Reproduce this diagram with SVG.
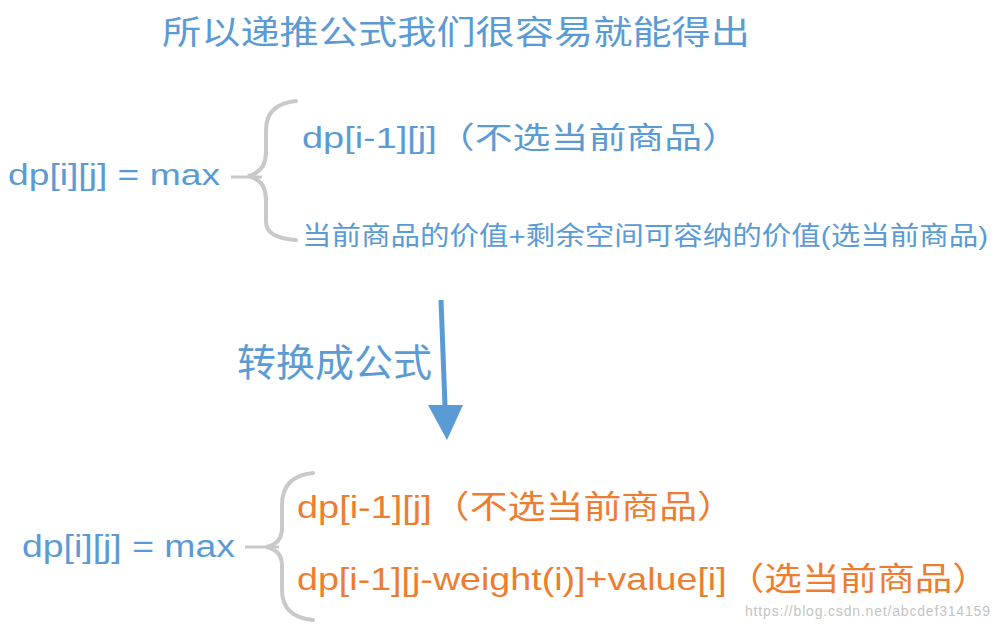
<svg xmlns="http://www.w3.org/2000/svg" width="1000" height="629" viewBox="0 0 1000 629">
<defs>
<style>
.b{fill:#5b9bd5;font-family:"Liberation Sans","Noto Sans CJK SC",sans-serif}
.o{fill:#ed7d31;font-family:"Liberation Sans","Noto Sans CJK SC",sans-serif}
.br{fill:none;stroke:#c9c9c9;stroke-width:4;stroke-linecap:round}
</style>
</defs>
<rect width="1000" height="629" fill="#fff"/>
<g id="title"><text class="b" x="162" y="44" font-size="33" textLength="588" lengthAdjust="spacingAndGlyphs">所以递推公式我们很容易就能得出</text></g>
<g id="top">
<text class="b" x="8" y="185" font-size="30" textLength="212" lengthAdjust="spacingAndGlyphs">dp[i][j] = max</text>
<path class="br" d="M296 101 Q266 104 266 130 L266 152 Q266 172 248 176 Q266 180 266 200 L266 222 Q266 238 296 240"/>
<text class="b" x="302" y="148" font-size="30" textLength="438" lengthAdjust="spacingAndGlyphs">dp[i-1][j]（不选当前商品）</text>
<text class="b" x="302" y="245" font-size="26" textLength="686" lengthAdjust="spacingAndGlyphs">当前商品的价值+剩余空间可容纳的价值(选当前商品)</text>
</g>
<g id="connectors">
<line x1="231" y1="177" x2="262" y2="177" stroke="#c9c9c9" stroke-width="3"/>
<line x1="245" y1="547" x2="279" y2="547" stroke="#c9c9c9" stroke-width="3"/>
<line x1="441" y1="300" x2="445" y2="406" stroke="#5b9bd5" stroke-width="5"/>
<polygon points="428,405 463,405 447,440" fill="#5b9bd5"/>
</g>
<g id="label"><text class="b" x="237" y="376" font-size="38" textLength="195" lengthAdjust="spacingAndGlyphs">转换成公式</text></g>
<g id="bottom">
<text class="b" x="22" y="557" font-size="31" textLength="213" lengthAdjust="spacingAndGlyphs">dp[i][j] = max</text>
<path class="br" d="M313 473 Q282 476 282 505 L282 528 Q282 544 266 547 Q282 550 282 566 L282 590 Q282 617 313 620"/>
<text class="o" x="297" y="518" font-size="32" textLength="438" lengthAdjust="spacingAndGlyphs">dp[i-1][j]（不选当前商品）</text>
<text class="o" x="297" y="590" font-size="32" textLength="693" lengthAdjust="spacingAndGlyphs">dp[i-1][j-weight(i)]+value[i]（选当前商品）</text>
</g>
<text x="745" y="616" font-size="14" fill="#c4c4c4" font-family="Liberation Sans,sans-serif" textLength="245">https://blog.csdn.net/abcdef314159</text>
</svg>
